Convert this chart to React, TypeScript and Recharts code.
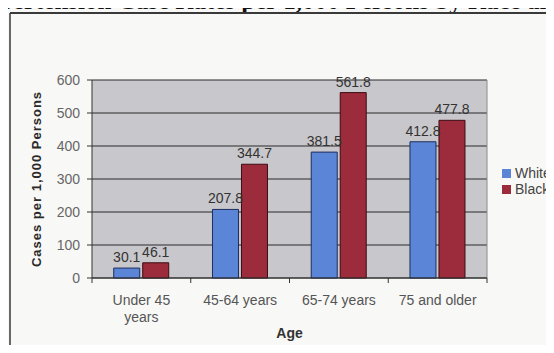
import { BarChart, Bar, XAxis, YAxis, CartesianGrid, Legend, LabelList, Label, ReferenceLine } from "recharts";

const ageGroups = ["Under 45 years", "45-64 years", "65-74 years", "75 and older"];
const whiteRates = [30.1, 207.8, 381.5, 412.8];
const blackRates = [46.1, 344.7, 561.8, 477.8];
const rateTicks = [0, 100, 200, 300, 400, 500, 600];
const raceOrder = ["White", "Black"];

const SANS = "'Liberation Sans', Arial, sans-serif";

const data = ageGroups.map((age, i) => ({ age, White: whiteRates[i], Black: blackRates[i] }));

// Excel-style wrapping for long category names
const wrapLabel = (s: string, max = 12) => {
  const lines: string[] = [];
  let cur = "";
  for (const w of s.split(" ")) {
    const next = cur ? `${cur} ${w}` : w;
    if (next.length > max && cur) {
      lines.push(cur);
      cur = w;
    } else cur = next;
  }
  if (cur) lines.push(cur);
  return lines;
};

// category label plus the small marks on the group boundaries
const AgeTick = ({ x, y, payload, index, visibleTicksCount }: any) => {
  const half = payload?.offset || 0;
  const last = index === visibleTicksCount - 1;
  return (
    <g>
      {half > 0 && <line x1={x - half} x2={x - half} y1={y} y2={y + 5} stroke="#333" />}
      {half > 0 && last && <line x1={x + half} x2={x + half} y1={y} y2={y + 5} stroke="#333" />}
      <text x={x} y={y} textAnchor="middle" fontSize={14} fill="#555" fontFamily={SANS}>
        {wrapLabel(payload.value).map((line, i) => (
          <tspan key={i} x={x} dy={i === 0 ? 27 : 17}>
            {line}
          </tspan>
        ))}
      </text>
    </g>
  );
};

const RateTitle = ({ viewBox }: any) => {
  const cx = viewBox.x + 6;
  const cy = viewBox.y + viewBox.height / 2;
  return (
    <text
      x={cx}
      y={cy}
      transform={`rotate(-90 ${cx} ${cy})`}
      textAnchor="middle"
      dominantBaseline="central"
      fontSize={13}
      fontWeight="bold"
      letterSpacing={1}
      fill="#2a2a2a"
      fontFamily={SANS}
    >
      Cases per 1,000 Persons
    </text>
  );
};

const RaceLegend = ({ payload }: any) => {
  const items = [...(payload || [])].sort(
    (a: any, b: any) => raceOrder.indexOf(a.value) - raceOrder.indexOf(b.value)
  );
  return (
    <div style={{ fontFamily: SANS, fontSize: 14, color: "#444" }}>
      {items.map((entry: any) => (
        <div key={entry.value} style={{ display: "flex", alignItems: "center", height: 16 }}>
          <span style={{ width: 9, height: 9, background: entry.color, marginRight: 4, display: "inline-block" }} />
          {entry.value}
        </div>
      ))}
    </div>
  );
};

export default function App() {
  return (
    <div style={{ position: "relative", width: 554, height: 353, margin: -8, background: "#f8f8f6", overflow: "hidden" }}>
      <svg width={554} height={353} style={{ position: "absolute", left: 0, top: 0 }}>
        <text x={-33} y={9} fontFamily="'Liberation Serif', 'Times New Roman', serif" fontWeight="bold" fontSize={25} fill="#111">
          Hypertension Case Rates per 1,000 Persons by Race and Age
        </text>
        <line x1={10} y1={13} x2={554} y2={13} stroke="#3a3a3a" strokeWidth={2} />
        <line x1={10} y1={13} x2={10} y2={353} stroke="#3a3a3a" strokeWidth={1.5} />
      </svg>
      <div style={{ position: "absolute", left: 0, top: 0 }}>
        <BarChart
          width={554}
          height={353}
          data={data}
          margin={{ top: 80, right: 67, bottom: 10, left: 30 }}
          barCategoryGap="22%"
          barGap={3}
        >
          <CartesianGrid vertical={false} stroke="#2b2b2b" fill="#c8c7cb" />
          <XAxis
            dataKey="age"
            tick={<AgeTick />}
            tickLine={false}
            tickSize={0}
            tickMargin={0}
            interval={0}
            axisLine={{ stroke: "#333" }}
            height={65}
          >
            <Label value="Age" position="insideBottom" offset={5} fontSize={14} fontWeight="bold" fill="#333" fontFamily={SANS} />
          </XAxis>
          <YAxis
            domain={[0, 600]}
            ticks={rateTicks}
            width={62}
            tickSize={5}
            tickMargin={7}
            tick={{ fontSize: 14, fill: "#666", fontFamily: SANS }}
            tickLine={{ stroke: "#333" }}
            axisLine={{ stroke: "#333" }}
            label={<RateTitle />}
          />
          <ReferenceLine x={ageGroups[ageGroups.length - 1]} position="end" stroke="#8a8a8a" />
          <Legend
            layout="vertical"
            align="center"
            verticalAlign="middle"
            content={<RaceLegend />}
            wrapperStyle={{ left: 502, top: 165, width: 60 }}
          />
          <Bar dataKey="White" fill="#5b86d8" stroke="#1e2d5c" strokeWidth={1} isAnimationActive={false}>
            <LabelList dataKey="White" position="top" offset={6} fontSize={14} fill="#333" fontFamily={SANS} />
          </Bar>
          <Bar dataKey="Black" fill="#9c2b3b" stroke="#3d0c14" strokeWidth={1} isAnimationActive={false}>
            <LabelList dataKey="Black" position="top" offset={6} fontSize={14} fill="#333" fontFamily={SANS} />
          </Bar>
        </BarChart>
      </div>
    </div>
  );
}
